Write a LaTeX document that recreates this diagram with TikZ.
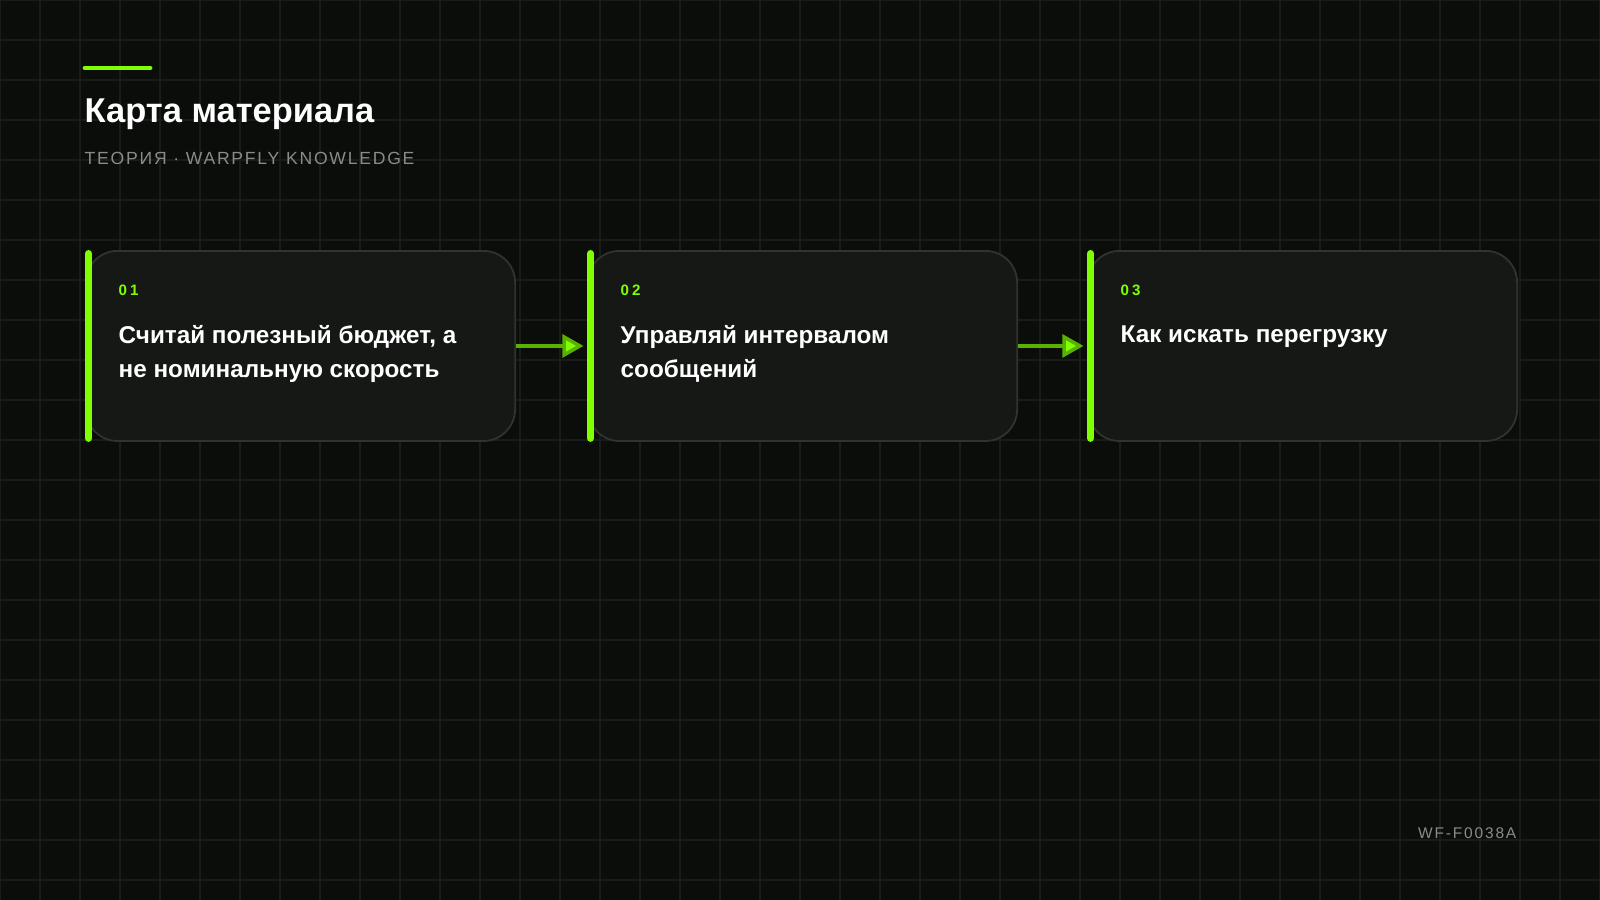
\documentclass[tikz,border=0pt]{standalone}
\usepackage{fontspec}
\setmainfont{Liberation Sans}
\usetikzlibrary{positioning, arrows.meta}
\definecolor{bg}{HTML}{0B0D0B}
\definecolor{cardfill}{HTML}{151815}
\definecolor{cardline}{HTML}{30342F}
\definecolor{lime}{HTML}{7FFF00}
\definecolor{muted}{HTML}{8A8C8A}
\tikzset{
    card/.style={draw=cardline, fill=cardfill, rounded corners=9pt, line width=0.5pt,
        minimum width=4.29cm, minimum height=1.9cm, anchor=north west},
    stepno/.style={anchor=north west, font=\bfseries\fontsize{4.3}{5}\selectfont\addfontfeature{LetterSpace=20},
        text=lime, inner sep=0pt},
    cardtext/.style={anchor=north west, align=left, font=\bfseries\fontsize{6.9}{9.7}\selectfont,
        text=white, inner sep=0pt},
    flow/.style={draw=lime!70!black, line width=1pt, -{Triangle[length=6pt, width=6.5pt, fill=lime]}},
}
\begin{document}
\begin{tikzpicture}[x=0.01cm, y=-0.01cm]
    \fill[bg] (0,0) rectangle (1600,900);
    \useasboundingbox (0,0) rectangle (1600,900);
    % faint grid
    \foreach \i in {0,40,...,1600} \draw[white!6!bg, line width=0.3pt] (\i,0) -- (\i,900);
    \foreach \j in {0,40,...,900} \draw[white!6!bg, line width=0.3pt] (0,\j) -- (1600,\j);

    % heading
    \draw[lime, line width=1.4pt, line cap=round] (85,68) -- (150,68);
    \node[anchor=base west, inner sep=0pt, text=white, font=\bfseries\fontsize{9.8}{12}\selectfont] (title) at (84,122) {Карта материала};
    \node[anchor=base west, inner sep=0pt, text=muted, font=\fontsize{5}{6}\selectfont\addfontfeature{LetterSpace=10}] (sub) at (84,164) {ТЕОРИЯ · WARPFLY KNOWLEDGE};

    % cards
    \node[card] (c1) at (85,250) {};
    \node[card] (c2) at (587,250) {};
    \node[card] (c3) at (1087,250) {};
    \foreach \c in {c1,c2,c3}
        \draw[lime, line width=2pt, line cap=round] ([xshift=1pt,yshift=-1pt]\c.north west) -- ([xshift=1pt,yshift=1pt]\c.south west);

    \node[stepno] (n1) at (118,284) {01};
    \node[stepno] (n2) at (620,284) {02};
    \node[stepno] (n3) at (1120,284) {03};
    \node[cardtext] (t1) at (118,325) {Считай полезный бюджет, а\\не номинальную скорость};
    \node[cardtext] (t2) at (620,325) {Управляй интервалом\\сообщений};
    \node[cardtext] (t3) at (1120,325) {Как искать перегрузку};

    \draw[flow] (c1.east) -- ([xshift=-1pt]c2.west);
    \draw[flow] (c2.east) -- ([xshift=-1pt]c3.west);

    % footer
    \node[anchor=base east, inner sep=0pt, text=muted, font=\fontsize{4.4}{5}\selectfont\addfontfeature{LetterSpace=12}] (code) at (1517,838) {WF-F0038A};
\end{tikzpicture}
\end{document}
